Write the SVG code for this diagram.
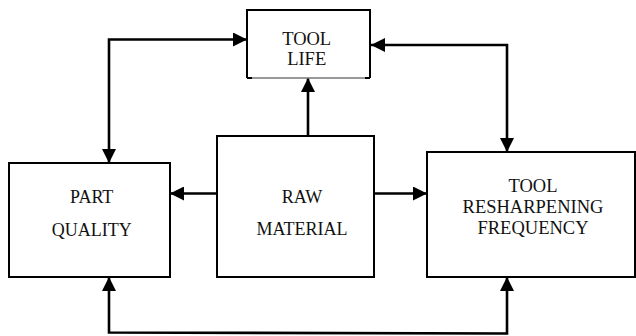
<svg xmlns="http://www.w3.org/2000/svg" width="636" height="336" viewBox="0 0 636 336">
  <defs>
    <marker id="arrow" markerUnits="userSpaceOnUse" markerWidth="14" markerHeight="14" refX="14" refY="7" orient="auto-start-reverse">
      <path d="M0,0 L14,7 L0,14 Z" fill="#000"/>
    </marker>
  </defs>
  <style>
    .box { fill: #fff; stroke: #000; stroke-width: 2; }
    .lbl { font-family: "Liberation Serif", "Times New Roman", serif; font-size: 18.5px; fill: #111; text-anchor: middle; }
    .lbl2 { font-family: "Liberation Serif", "Times New Roman", serif; font-size: 18px; fill: #111; text-anchor: middle; }
    .conn { fill: none; stroke: #000; stroke-width: 2.6; }
  </style>
  <rect width="636" height="336" fill="#fff"/>

  <g id="connectors">
    <path class="conn" d="M109,163 V39.5 H247" marker-start="url(#arrow)" marker-end="url(#arrow)"/>
    <path class="conn" d="M371,45 H507 V152" marker-start="url(#arrow)" marker-end="url(#arrow)"/>
    <path class="conn" d="M308,136 V78" marker-end="url(#arrow)"/>
    <path class="conn" d="M217,193.5 H170" marker-end="url(#arrow)"/>
    <path class="conn" d="M374,193.5 H427" marker-end="url(#arrow)"/>
    <path class="conn" d="M109,277 V332.5 L507,333.5 V277" marker-start="url(#arrow)" marker-end="url(#arrow)"/>
  </g>

  <g id="tool-life">
    <rect x="247" y="10" width="123" height="68" fill="#fff"/>
    <path d="M247,78 V10 H370 V78" fill="none" stroke="#000" stroke-width="2"/>
    <path d="M247,78 H370" fill="none" stroke="#777" stroke-width="1.3"/>
    <path d="M247,78 H252 M365,78 H370" fill="none" stroke="#000" stroke-width="2"/>
    <text class="lbl" x="306.7" y="45">TOOL</text>
    <text class="lbl" x="306.7" y="65">LIFE</text>
  </g>

  <g id="part-quality">
    <rect class="box" x="9" y="163" width="161" height="114"/>
    <text class="lbl2" x="91.7" y="203">PART</text>
    <text class="lbl2" x="91.7" y="235.5">QUALITY</text>
  </g>

  <g id="raw-material">
    <rect class="box" x="217" y="136" width="157" height="141"/>
    <text class="lbl2" x="302" y="203">RAW</text>
    <text class="lbl2" x="302" y="235">MATERIAL</text>
  </g>

  <g id="tool-resharpening-frequency">
    <rect class="box" x="427" y="152" width="208" height="125"/>
    <text class="lbl" x="533" y="191.5">TOOL</text>
    <text class="lbl" x="533" y="213">RESHARPENING</text>
    <text class="lbl" x="533" y="234">FREQUENCY</text>
  </g>
</svg>
